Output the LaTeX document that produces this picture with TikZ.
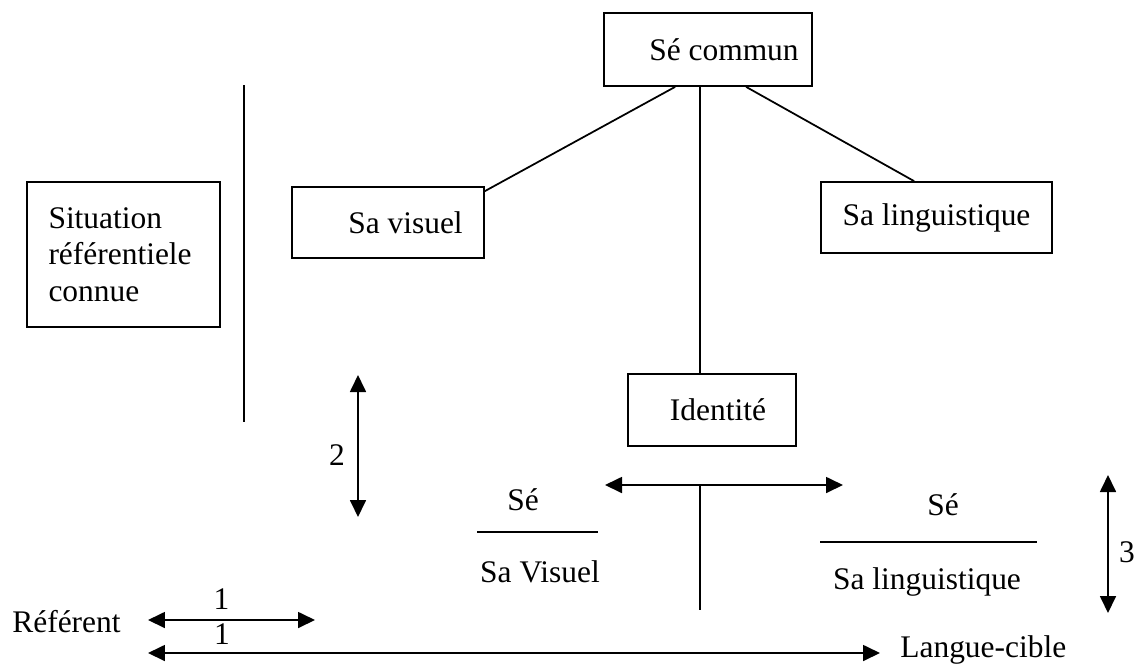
\documentclass[tikz,border=0pt]{standalone}
\usepackage{fontspec}
\setmainfont{Liberation Serif}
\usetikzlibrary{arrows.meta}
\tikzset{
  box/.style={draw, line width=1pt, inner sep=0pt, align=center},
  lbl/.style={inner sep=0pt, anchor=base},
  trait/.style={line width=1pt},
  dbl/.style={<->, line width=1pt},
}
\begin{document}
\begin{tikzpicture}[x=0.02cm, y=-0.02cm, >={Triangle[length=0.34cm,width=0.32cm]},
    font=\fontsize{17.9}{20.7}\selectfont]
  \useasboundingbox (0,0) rectangle (1137,664);
  % boites
  \node[box, minimum width=4.16cm, minimum height=1.46cm] (commun) at (708,49.5) {\hspace*{0.64cm}Sé commun};
  \node[box, minimum width=3.84cm, minimum height=1.42cm] (visuel) at (388,222.5) {\hspace*{0.7cm}Sa visuel};
  \node[box, minimum width=4.62cm, minimum height=1.42cm] (ling) at (936.5,217.5) {Sa linguistique};
  \node[box, minimum width=3.86cm, minimum height=2.9cm, text width=3.0cm, align=left] (situ) at (123.5,254.5)
    {Situation\\ référentiele\\ connue};
  \node[box, minimum width=3.36cm, minimum height=1.44cm] (ident) at (712,410) {\hspace*{0.24cm}Identité};
  % points libres
  \coordinate (div1) at (244,85);
  \coordinate (div2) at (244,422);
  \coordinate (axis) at (700,0);
  \coordinate (hl) at (605,485);
  \coordinate (hr) at (843,485);
  \coordinate (axbot) at (700,610);
  \coordinate (a2t) at (358,375);
  \coordinate (a2b) at (358,517);
  \coordinate (a3t) at (1108,475);
  \coordinate (a3b) at (1108,613);
  \coordinate (r1a) at (148,620);
  \coordinate (r1b) at (315,620);
  \coordinate (r2a) at (148,653);
  \coordinate (r2b) at (880,653);
  \coordinate (fv1) at (477,532);
  \coordinate (fv2) at (598,532);
  \coordinate (fl1) at (820,542);
  \coordinate (fl2) at (1037,542);
  % liens
  \draw[trait] ([xshift=1.44cm]commun.south west) -- ([yshift=-0.1cm]visuel.north east);
  \draw[trait] ([xshift=2.86cm]commun.south west) -- ([xshift=1.88cm]ling.north west);
  \draw[trait] (axis |- commun.south) -- (axis |- ident.north);
  \draw[trait] (div1) -- (div2);
  \draw[trait] (axis |- hl) -- (axbot);
  \draw[dbl] (hl) -- (hr);
  \draw[dbl] (a2t) -- (a2b);
  \draw[dbl] (a3t) -- (a3b);
  \draw[dbl] (r1a) -- (r1b) node[pos=0.44, above=0.2cm, inner sep=0pt] (un1) {1};
  \draw[dbl] (r2a) -- (r2b) node[pos=0.101, above=0.16cm, inner sep=0pt] (un2) {1};
  % fractions
  \node[lbl] (sev) at (523,510) {Sé};
  \draw[trait] (fv1) -- (fv2);
  \node[lbl] (sav) at (540,582) {Sa Visuel};
  \node[lbl] (sel) at (943,515) {Sé};
  \draw[trait] (fl1) -- (fl2);
  \node[lbl] (sal) at (927,589) {Sa linguistique};
  % etiquettes
  \node[lbl] (deux) at (337,465) {2};
  \node[lbl] (trois) at (1127,562) {3};
  \node[lbl, anchor=base west] (refer) at (12,632) {Référent};
  \node[lbl, anchor=base west] (cible) at (900,657) {Langue-cible};
\end{tikzpicture}
\end{document}
